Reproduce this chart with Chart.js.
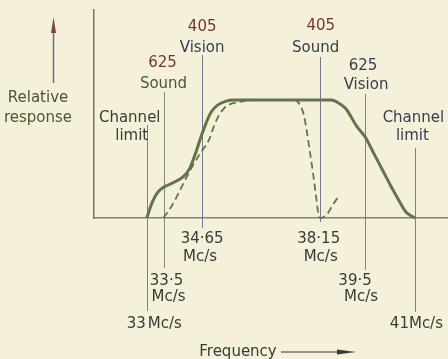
<!DOCTYPE html>
<html>
<head>
<meta charset="utf-8">
<script src="https://cdn.jsdelivr.net/npm/chart.js@4.4.1/dist/chart.umd.min.js"></script>
<style>
  html, body { margin: 0; padding: 0; background: #f5f0da; }
  canvas { display: block; }
</style>
</head>
<body>
<canvas id="c" width="448" height="359"></canvas>
<script>
// ---- data ----
const markerFreqs = [33, 33.5, 34.65, 38.15, 39.5, 41];
const markerTopLabels = [
  ["Channel", "limit"],
  ["625", "Sound"],
  ["405", "Vision"],
  ["405", "Sound"],
  ["625", "Vision"],
  ["Channel", "limit"]
];
const markerBottomLabels = [
  ["33", "Mc/s"],
  ["33·5", "Mc/s"],
  ["34·65", "Mc/s"],
  ["38·15", "Mc/s"],
  ["39·5", "Mc/s"],
  ["41Mc/s"]
];
const yAxisTitle = ["Relative", "response"];
const xAxisTitle = "Frequency";

const solidFreq = [33.00, 33.16, 33.32, 33.51, 33.83, 34.09, 34.28, 34.47, 34.60, 34.69, 34.78, 34.92, 35.10, 35.34, 35.61, 38.50, 38.74, 38.93, 39.26, 39.50, 39.76, 40.02, 40.28, 40.53, 40.71, 40.88, 41.00];
const solidResp = [0, 0.130, 0.215, 0.262, 0.305, 0.350, 0.421, 0.562, 0.675, 0.746, 0.814, 0.898, 0.955, 0.989, 1.0, 1.0, 0.969, 0.926, 0.774, 0.689, 0.548, 0.407, 0.265, 0.138, 0.053, 0.017, 0];

const dashedFreq = [33.50, 33.76, 34.02, 34.27, 34.53, 34.72, 34.87, 35.01, 35.15, 35.34, 35.52, 35.80, 35.98, 36.68, 37.40, 37.54, 37.68, 37.77, 37.86, 37.96, 38.05, 38.11, 38.17, 38.38, 38.56, 38.74];
const dashedResp = [0, 0.110, 0.252, 0.392, 0.519, 0.600, 0.672, 0.786, 0.870, 0.941, 0.969, 0.986, 0.995, 1.0, 1.0, 0.969, 0.870, 0.729, 0.559, 0.362, 0.164, 0.036, 0, 0.036, 0.121, 0.192];

// ---- style / layout ----
const BG = '#f5f0da';
const CURVE = '#62744a';
const FONT = '15px "DejaVu Sans"';
const BROWN = '#70382a', SLATE = '#363d50', OLIVE = '#4b582a', DARK = '#353b38';

// per marker: line extent (px) and label placement [dx, baseline, color, align]
const markerStyle = [
  { top: 125, bottom: 311, color: '#7d8862',
    topPos: [[-17, 122, DARK], [-15, 140, DARK]],
    botPos: [[-1, 328, DARK, 'right'], [1, 328, DARK, 'left']] },
  { top: 92, bottom: 268, color: '#858978',
    topPos: [[-1, 67, BROWN], [0, 88, OLIVE]],
    botPos: [[3, 285, DARK], [5, 301, DARK]] },
  { top: 55, bottom: 228, color: '#737894',
    topPos: [[0, 31, BROWN], [0, 52, SLATE]],
    botPos: [[0, 243, DARK], [-2, 261, DARK]] },
  { top: 57, bottom: 222, color: '#737894',
    topPos: [[1, 30, BROWN], [-4, 52, SLATE]],
    botPos: [[-1, 243, DARK], [1, 261, DARK]] },
  { top: 94, bottom: 270, color: '#7f8670',
    topPos: [[-2, 70, SLATE], [1, 89, SLATE]],
    botPos: [[-10, 285, DARK], [-4, 301, DARK]] },
  { top: 148, bottom: 312, color: '#7d8862',
    topPos: [[-2, 122, SLATE], [-3, 140, SLATE]],
    botPos: [[1, 328, DARK]] }
];

const toPoints = (xs, ys) => xs.map((x, i) => ({ x: x, y: ys[i] }));

const bgPlugin = {
  id: 'bg',
  beforeDraw(chart) {
    const c = chart.ctx;
    c.save();
    c.fillStyle = BG;
    c.fillRect(0, 0, chart.width, chart.height);
    c.restore();
  }
};

const annotPlugin = {
  id: 'annot',
  beforeDatasetsDraw(chart) {
    const c = chart.ctx, xs = chart.scales.x;
    c.save();
    markerFreqs.forEach((f, i) => {
      const st = markerStyle[i];
      const px = Math.round(xs.getPixelForValue(f)) + 0.5;
      c.strokeStyle = st.color;
      c.lineWidth = 1;
      c.beginPath();
      c.moveTo(px, st.top);
      c.lineTo(px, st.bottom);
      c.stroke();
    });
    c.restore();
  },
  afterDraw(chart) {
    const c = chart.ctx, xs = chart.scales.x;
    c.save();
    c.font = FONT;
    c.textBaseline = 'alphabetic';
    markerFreqs.forEach((f, i) => {
      const st = markerStyle[i];
      const px = xs.getPixelForValue(f);
      markerTopLabels[i].forEach((t, j) => {
        const p = st.topPos[j];
        c.fillStyle = p[2];
        c.textAlign = p[3] || 'center';
        c.fillText(t, px + p[0], p[1]);
      });
      markerBottomLabels[i].forEach((t, j) => {
        const p = st.botPos[j];
        c.fillStyle = p[2];
        c.textAlign = p[3] || 'center';
        c.fillText(t, px + p[0], p[1]);
      });
    });
    // y axis title with upward arrow
    c.fillStyle = OLIVE;
    c.textAlign = 'center';
    c.fillText(yAxisTitle[0], 38, 102);
    c.fillText(yAxisTitle[1], 38, 122);
    c.strokeStyle = '#6d6f80';
    c.lineWidth = 1.5;
    c.beginPath();
    c.moveTo(53.5, 83);
    c.lineTo(53.5, 28);
    c.stroke();
    c.fillStyle = '#7a4536';
    c.beginPath();
    c.moveTo(53.5, 17);
    c.lineTo(56, 33);
    c.lineTo(51, 33);
    c.closePath();
    c.fill();
    // x axis title with right arrow
    c.fillStyle = DARK;
    c.textAlign = 'center';
    c.fillText(xAxisTitle, 238, 356);
    c.strokeStyle = DARK;
    c.lineWidth = 1.2;
    c.beginPath();
    c.moveTo(281, 352);
    c.lineTo(340, 352);
    c.stroke();
    c.beginPath();
    c.moveTo(356, 352);
    c.lineTo(337, 349.5);
    c.lineTo(337, 354.5);
    c.closePath();
    c.fill();
    c.restore();
  }
};

new Chart(document.getElementById('c').getContext('2d'), {
  type: 'line',
  data: {
    datasets: [
      {
        label: 'Response',
        data: toPoints(solidFreq, solidResp),
        borderColor: CURVE,
        borderWidth: 3,
        pointRadius: 0,
        fill: false,
        cubicInterpolationMode: 'monotone',
        clip: false
      },
      {
        label: 'Sound trap',
        data: toPoints(dashedFreq, dashedResp),
        borderColor: CURVE,
        borderWidth: 1.8,
        borderDash: [7, 4],
        pointRadius: 0,
        fill: false,
        cubicInterpolationMode: 'monotone',
        clip: false
      }
    ]
  },
  options: {
    responsive: false,
    animation: false,
    devicePixelRatio: 1,
    layout: { padding: { left: 94, top: 10, right: 0, bottom: 141 } },
    plugins: { legend: { display: false }, tooltip: { enabled: false } },
    scales: {
      x: {
        type: 'linear', min: 31.43, max: 41.97,
        ticks: { display: false },
        grid: { display: false, drawTicks: false },
        border: { display: true, color: '#7f8470', width: 1.5 },
        afterFit(s) { s.height = 0; }
      },
      y: {
        min: 0, max: 1.763,
        ticks: { display: false },
        grid: { display: false, drawTicks: false },
        border: { display: true, color: '#6f7c50', width: 1.5 },
        afterFit(s) { s.width = 0; }
      }
    }
  },
  plugins: [bgPlugin, annotPlugin]
});
</script>
</body>
</html>
